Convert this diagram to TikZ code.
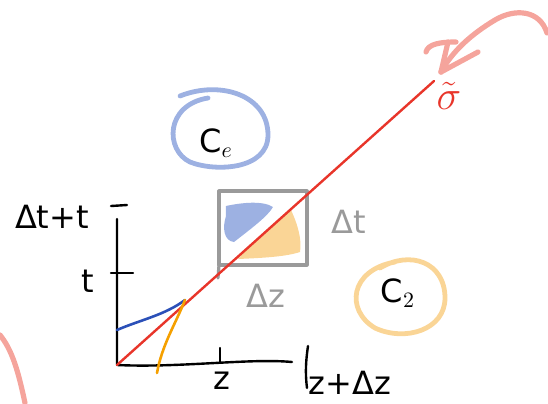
\documentclass[tikz,border=0pt]{standalone}
\usepackage{fontspec}
\setmainfont{DejaVu Sans}
\usetikzlibrary{arrows.meta}
\definecolor{redl}{HTML}{E8352A}
\definecolor{blued}{HTML}{2B50B8}
\definecolor{bluel}{HTML}{9DB1E2}
\definecolor{orad}{HTML}{F5A000}
\definecolor{oral}{HTML}{FAD596}
\definecolor{grayl}{HTML}{9A9A9A}
\definecolor{pink}{HTML}{F5A49C}
\begin{document}
\begin{tikzpicture}[x=0.5pt,y=-0.5pt,
  ink/.style={line width=1.4pt,line cap=round,line join=round},
  lbl/.style={font=\fontsize{16}{19}\selectfont,inner sep=0pt},
  glbl/.style={lbl,text=grayl}]
\useasboundingbox (0,0) rectangle (548,403);
% coordinates
\coordinate (O) at (117,365);
\coordinate (Ytop) at (117,219);
\coordinate (Xend) at (292,362);
\coordinate (Rend) at (434,81);
\coordinate (P) at (185,300);
\coordinate (B0) at (117,330);
\coordinate (Or0) at (157,373);
\coordinate (Tip) at (441,72);
% box blobs
\fill[bluel] (226,206) .. controls (240,203) and (262,200) .. (273,207)
  .. controls (268,216) and (252,228) .. (234,242)
  .. controls (224,241) and (222,228) .. (226,216) -- cycle;
\fill[oral] (238,259) .. controls (255,240) and (275,222) .. (291,210)
  .. controls (298,225) and (302,240) .. (300,252)
  .. controls (285,257) and (260,258) .. cycle;
% gray box
\draw[ink,grayl,line width=1.6pt] (219,191) rectangle (307,265);
\draw[ink,grayl,line width=1.6pt] (219,265) -- (218,278);
% axes
\draw[ink,line width=1.2pt] (Ytop) -- (O) .. controls (180,368) and (250,358) .. (Xend);
\draw[ink,line width=1.2pt] (111,206) -- (127,205);
\draw[ink,line width=1.2pt] (111,273) -- (133,273);
\draw[ink,line width=1.2pt] (220,348) -- (220,362);
\draw[ink,line width=1.2pt] (308,346) .. controls (306,360) and (305,372) .. (307,388);
% red line
\draw[ink,redl,line width=1.2pt] (O) -- (Rend);
% blue and orange curves
\draw[ink,blued,line width=1.3pt] (B0) .. controls (140,320) and (165,315) .. (P);
\draw[ink,orad,line width=1.3pt] (Or0) .. controls (162,345) and (175,325) .. (P);
% ellipses
\draw[ink,bluel,line width=2.4pt] (180,96) .. controls (220,80) and (268,95) .. (268,135)
  .. controls (268,170) and (215,172) .. (190,162)
  .. controls (165,150) and (165,105) .. (208,98);
\draw[ink,oral,line width=2.4pt] (380,268) .. controls (410,250) and (445,262) .. (445,298)
  .. controls (445,330) and (405,342) .. (375,328)
  .. controls (345,310) and (350,270) .. (395,262);
% pink arrow
\draw[ink,pink,line width=2.6pt] (547,33) .. controls (540,10) and (515,8) .. (495,20)
  .. controls (470,35) and (452,52) .. (Tip);
\draw[ink,pink,line width=2.6pt] (Tip) -- (478,52);
\draw[ink,pink,line width=2.6pt] (Tip) -- (448,42);
\draw[ink,pink,line width=2.6pt] (426,52) .. controls (428,44) and (440,42) .. (456,42);
\draw[ink,pink,line width=2.6pt] (0,335) .. controls (12,350) and (18,370) .. (25,403);
% labels
\node[lbl] (lt) at (88,281) {t};
\node[lbl] (ldt) at (52,217) {Δt+t};
\node[lbl] (lz) at (222,381) {z};
\node[lbl] (lzdz) at (350,383) {z+Δz};
\node[glbl] (gdt) at (349,222) {Δt};
\node[glbl] (gdz) at (266,296) {Δz};
\node[lbl] (ce) at (216,143) {C$_{e}$};
\node[lbl] (c2) at (398,293) {C$_{2}$};
\node[lbl,text=redl,font=\fontsize{22}{24}\selectfont] (sig) at (449,96) {$\tilde{\sigma}$};
\end{tikzpicture}
\end{document}
